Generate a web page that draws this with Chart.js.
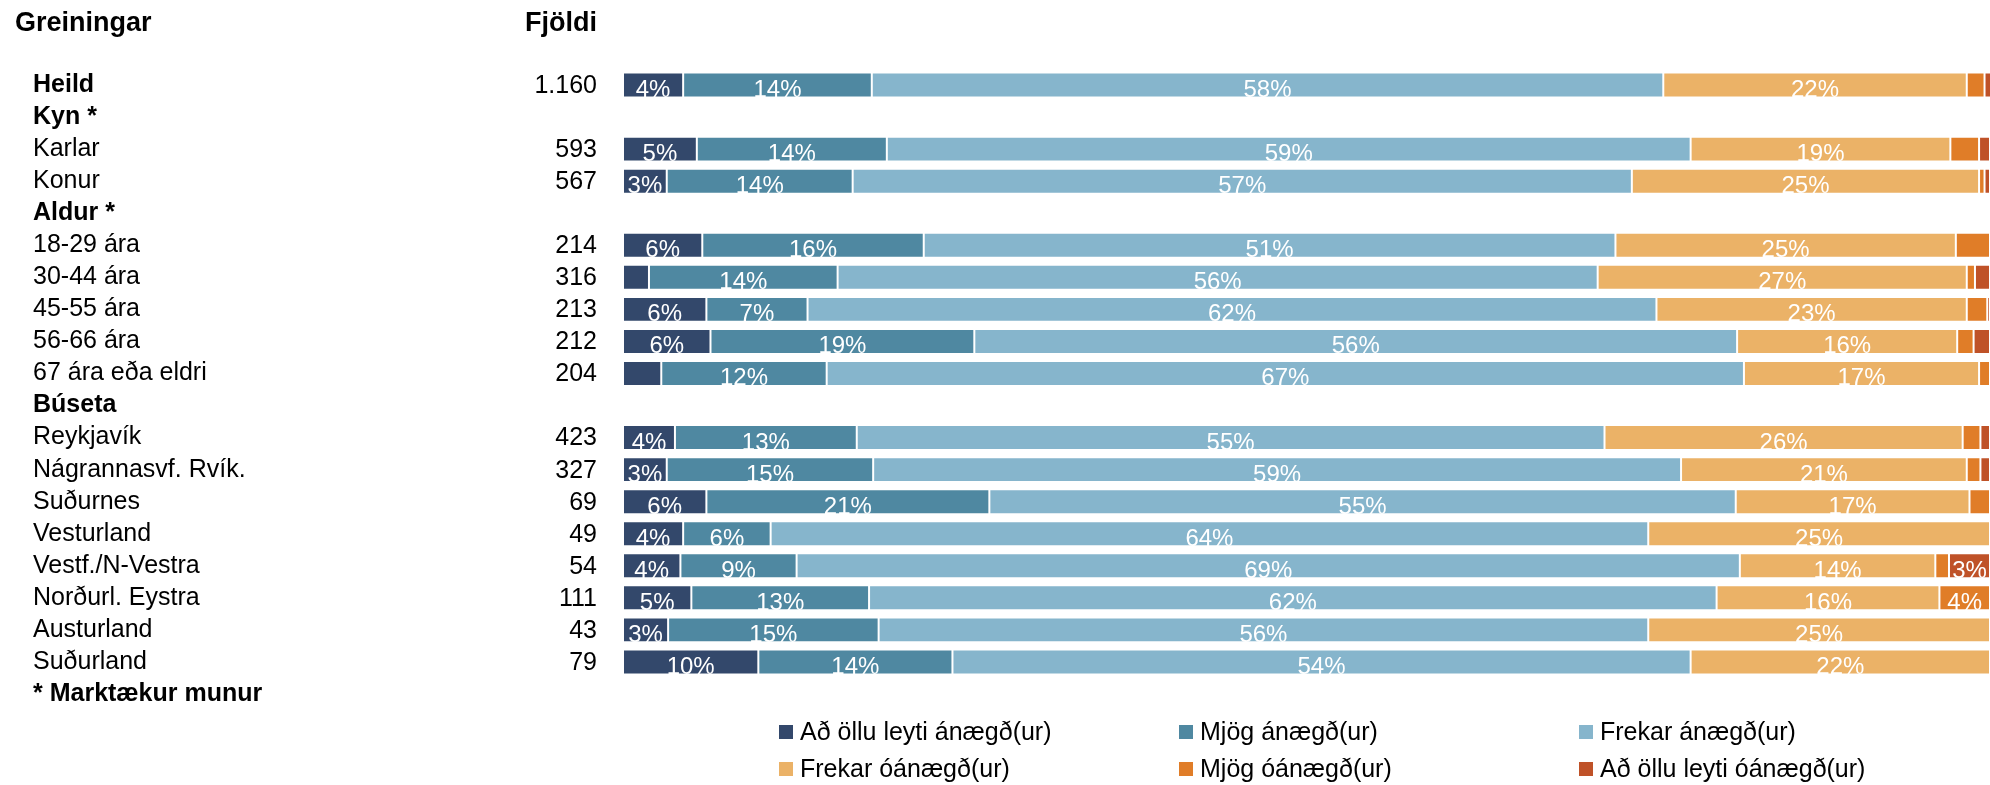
<!DOCTYPE html>
<html>
<head>
<meta charset="utf-8">
<title>Greiningar</title>
<script src="https://cdn.jsdelivr.net/npm/chart.js@4/dist/chart.umd.min.js"></script>
<style>
    html, body { margin: 0; padding: 0; background: #ffffff; }
    #wrap { position: relative; width: 1990px; height: 785px; }
</style>
</head>
<body>
<div id="wrap"><canvas id="chart"></canvas></div>
<script>
// Categories (header rows have no bars)
var categories = ['Heild', 'Kyn *', 'Karlar', 'Konur', 'Aldur *', '18-29 ára', '30-44 ára', '45-55 ára',
    '56-66 ára', '67 ára eða eldri', 'Búseta', 'Reykjavík', 'Nágrannasvf. Rvík.', 'Suðurnes',
    'Vesturland', 'Vestf./N-Vestra', 'Norðurl. Eystra', 'Austurland', 'Suðurland', '* Marktækur munur'];
var boldRows = ['Heild', 'Kyn *', 'Aldur *', 'Búseta', '* Marktækur munur'];
var counts = ['1.160', '', '593', '567', '', '214', '316', '213', '212', '204', '',
    '423', '327', '69', '49', '54', '111', '43', '79', ''];

var seriesNames = ['Að öllu leyti ánægð(ur)', 'Mjög ánægð(ur)', 'Frekar ánægð(ur)',
    'Frekar óánægð(ur)', 'Mjög óánægð(ur)', 'Að öllu leyti óánægð(ur)'];

var adOlluAnaegd   = [4.4, null, 5.4, 3.2, null, 5.8, 1.9, 6.1, 6.4, 2.8, null, 3.8, 3.2, 6.1, 4.4, 4.2, 5.0, 3.3, 9.9, null];
var mjogAnaegd     = [13.8, null, 13.9, 13.6, null, 16.2, 13.8, 7.4, 19.3, 12.1, null, 13.3, 15.1, 20.7, 6.4, 8.5, 13.0, 15.4, 14.2, null];
var frekarAnaegd   = [57.9, null, 58.8, 57.0, null, 50.6, 55.6, 62.1, 55.8, 67.1, null, 54.7, 59.1, 54.6, 64.2, 69.0, 62.0, 56.3, 54.0, null];
var frekarOanaegd  = [22.2, null, 19.0, 25.4, null, 24.9, 27.0, 22.7, 16.1, 17.2, null, 26.2, 20.9, 17.1, 25.0, 14.3, 16.3, 25.0, 21.9, null];
var mjogOanaegd    = [1.3, null, 2.1, 0.4, null, 2.5, 0.6, 1.5, 1.2, 0.8, null, 1.3, 1.0, 1.5, 0, 1.0, 3.7, 0, 0, null];
var adOlluOanaegd  = [0.5, null, 0.8, 0.4, null, 0, 1.1, 0.2, 1.2, 0, null, 0.7, 0.7, 0, 0, 3.0, 0, 0, 0, null];

var colors = ['#33486b', '#4f88a1', '#86b5cc', '#ebb267', '#e07d28', '#bf5228'];
var FONT = "'Liberation Sans', Arial, sans-serif";

var seriesData = [adOlluAnaegd, mjogAnaegd, frekarAnaegd, frekarOanaegd, mjogOanaegd, adOlluOanaegd];
var datasets = seriesData.map(function (d, i) {
    return {
        label: seriesNames[i],
        data: d,
        backgroundColor: colors[i],
        borderColor: 'rgba(255,255,255,0.25)',
        borderWidth: 1,
        borderSkipped: false,
        barPercentage: 0.78,
        categoryPercentage: 1
    };
});

// percent labels inside the bars, counts column, headers and legend
var extrasPlugin = {
    id: 'extras',
    afterDatasetsDraw: function (chart) {
        var ctx = chart.ctx;
        ctx.save();
        ctx.fillStyle = '#ffffff';
        ctx.font = '24px ' + FONT;
        ctx.textAlign = 'center';
        ctx.textBaseline = 'alphabetic';
        chart.data.datasets.forEach(function (ds, di) {
            var meta = chart.getDatasetMeta(di);
            meta.data.forEach(function (bar, i) {
                var v = ds.data[i];
                if (v == null || v < 2.95) return;
                var cx = (bar.x + bar.base) / 2;
                ctx.fillText(Math.round(v) + '%', cx, bar.y + 12);
            });
        });
        ctx.restore();
    },
    afterDraw: function (chart) {
        var ctx = chart.ctx;
        var y = chart.scales.y;
        ctx.save();
        ctx.fillStyle = '#000000';
        ctx.textBaseline = 'alphabetic';

        ctx.font = 'bold 27px ' + FONT;
        ctx.textAlign = 'left';
        ctx.fillText('Greiningar', 15, 31);
        ctx.textAlign = 'right';
        ctx.fillText('Fjöldi', 597, 31);

        ctx.font = '25px ' + FONT;
        ctx.textBaseline = 'middle';
        counts.forEach(function (c, i) {
            if (c) ctx.fillText(c, 597, y.getPixelForValue(i) + 1);
        });

        // legend: 3 columns x 2 rows
        var colX = [779, 1179, 1579];
        var rowY = [732, 769];
        ctx.textAlign = 'left';
        chart.data.datasets.forEach(function (ds, i) {
            var x = colX[i % 3];
            var ly = rowY[Math.floor(i / 3)];
            ctx.fillStyle = ds.backgroundColor;
            ctx.fillRect(x, ly - 7, 14, 14);
            ctx.fillStyle = '#000000';
            ctx.fillText(ds.label, x + 21, ly + 1);
        });
        ctx.restore();
    }
};

new Chart(document.getElementById('chart').getContext('2d'), {
    type: 'bar',
    data: { labels: categories, datasets: datasets },
    options: {
        indexAxis: 'y',
        responsive: true,
        maintainAspectRatio: false,
        animation: false,
        layout: { padding: { top: 69, bottom: 75, left: 33, right: 0 } },
        plugins: {
            legend: { display: false },
            title: { display: false },
            tooltip: { enabled: false }
        },
        scales: {
            x: {
                stacked: true,
                min: 0,
                max: 100,
                display: false
            },
            y: {
                stacked: true,
                grid: { display: false },
                border: { display: false },
                afterFit: function (scale) { scale.width = 590; },
                ticks: {
                    autoSkip: false,
                    crossAlign: 'far',
                    color: '#000000',
                    font: function (c) {
                        var lbl = categories[c.index];
                        return { family: FONT, size: 25, weight: boldRows.indexOf(lbl) >= 0 ? 'bold' : 'normal' };
                    }
                }
            }
        }
    },
    plugins: [extrasPlugin]
});
</script>
</body>
</html>
